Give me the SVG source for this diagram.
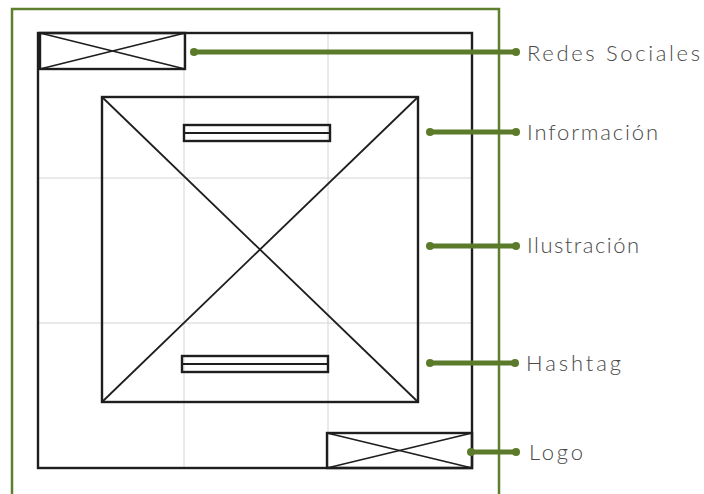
<svg xmlns="http://www.w3.org/2000/svg" width="704" height="494" viewBox="0 0 704 494">
<style>
.grid{stroke:#d4d4d4;stroke-width:1;fill:none}
.ink{stroke:#1e1e1e;stroke-width:2.4;fill:none}
.thin{stroke:#1e1e1e;stroke-width:1.8;fill:none}
.con{stroke:#5b7b2a;stroke-width:5;stroke-linecap:round}
.dot{fill:#5b7b2a}
.lbl{font-family:Lato,"Open Sans",sans-serif;font-weight:300;font-size:22px;fill:#4a4a4a}
</style>
<rect width="704" height="494" fill="#ffffff"/>
<rect x="12" y="9" width="487" height="490" fill="none" stroke="#5e7f2e" stroke-width="2.5"/>
<g id="grid">
<line class="grid" x1="184" y1="33" x2="184" y2="468"/>
<line class="grid" x1="328" y1="33" x2="328" y2="468"/>
<line class="grid" x1="38" y1="178" x2="472" y2="178"/>
<line class="grid" x1="38" y1="323" x2="472" y2="323"/>
</g>
<g id="pagina"><rect class="ink" x="38" y="33" width="434" height="435"/></g>
<g id="redes">
<rect class="ink" x="40" y="33" width="145" height="36"/>
<line class="thin" x1="40" y1="33" x2="185" y2="69"/>
<line class="thin" x1="185" y1="33" x2="40" y2="69"/>
</g>
<g id="ilustracion">
<rect class="ink" x="102" y="97" width="316" height="305"/>
<line class="thin" x1="102" y1="97" x2="418" y2="402"/>
<line class="thin" x1="418" y1="97" x2="102" y2="402"/>
</g>
<g id="informacion">
<rect class="ink" x="184" y="125" width="146" height="16"/>
<line class="thin" x1="184" y1="133" x2="330" y2="133"/>
</g>
<g id="hashtag">
<rect class="ink" x="182" y="356" width="146" height="16"/>
<line class="thin" x1="182" y1="364" x2="328" y2="364"/>
</g>
<g id="logo">
<rect class="ink" x="327" y="433" width="145" height="35"/>
<line class="thin" x1="327" y1="433" x2="472" y2="468"/>
<line class="thin" x1="472" y1="433" x2="327" y2="468"/>
</g>
<g id="connectors">
<line class="con" x1="194" y1="52" x2="516" y2="52"/><circle class="dot" cx="194" cy="52" r="4"/><circle class="dot" cx="516" cy="52" r="4"/>
<line class="con" x1="430" y1="132" x2="516" y2="132"/><circle class="dot" cx="430" cy="132" r="4"/><circle class="dot" cx="516" cy="132" r="4"/>
<line class="con" x1="430" y1="246" x2="516" y2="246"/><circle class="dot" cx="430" cy="246" r="4"/><circle class="dot" cx="516" cy="246" r="4"/>
<line class="con" x1="430" y1="363" x2="515" y2="363"/><circle class="dot" cx="430" cy="363" r="4"/><circle class="dot" cx="515" cy="363" r="4"/>
<line class="con" x1="471" y1="452" x2="516" y2="452"/><circle class="dot" cx="471" cy="452" r="4"/><circle class="dot" cx="516" cy="452" r="4"/>
</g>
<g id="labels">
<text class="lbl" x="527" y="61" textLength="173" lengthAdjust="spacing">Redes Sociales</text>
<text class="lbl" x="527" y="140" textLength="131" lengthAdjust="spacing">Información</text>
<text class="lbl" x="527" y="253" textLength="112" lengthAdjust="spacing">Ilustración</text>
<text class="lbl" x="526" y="371" textLength="95" lengthAdjust="spacing">Hashtag</text>
<text class="lbl" x="529" y="460" textLength="54" lengthAdjust="spacing">Logo</text>
</g>
</svg>
